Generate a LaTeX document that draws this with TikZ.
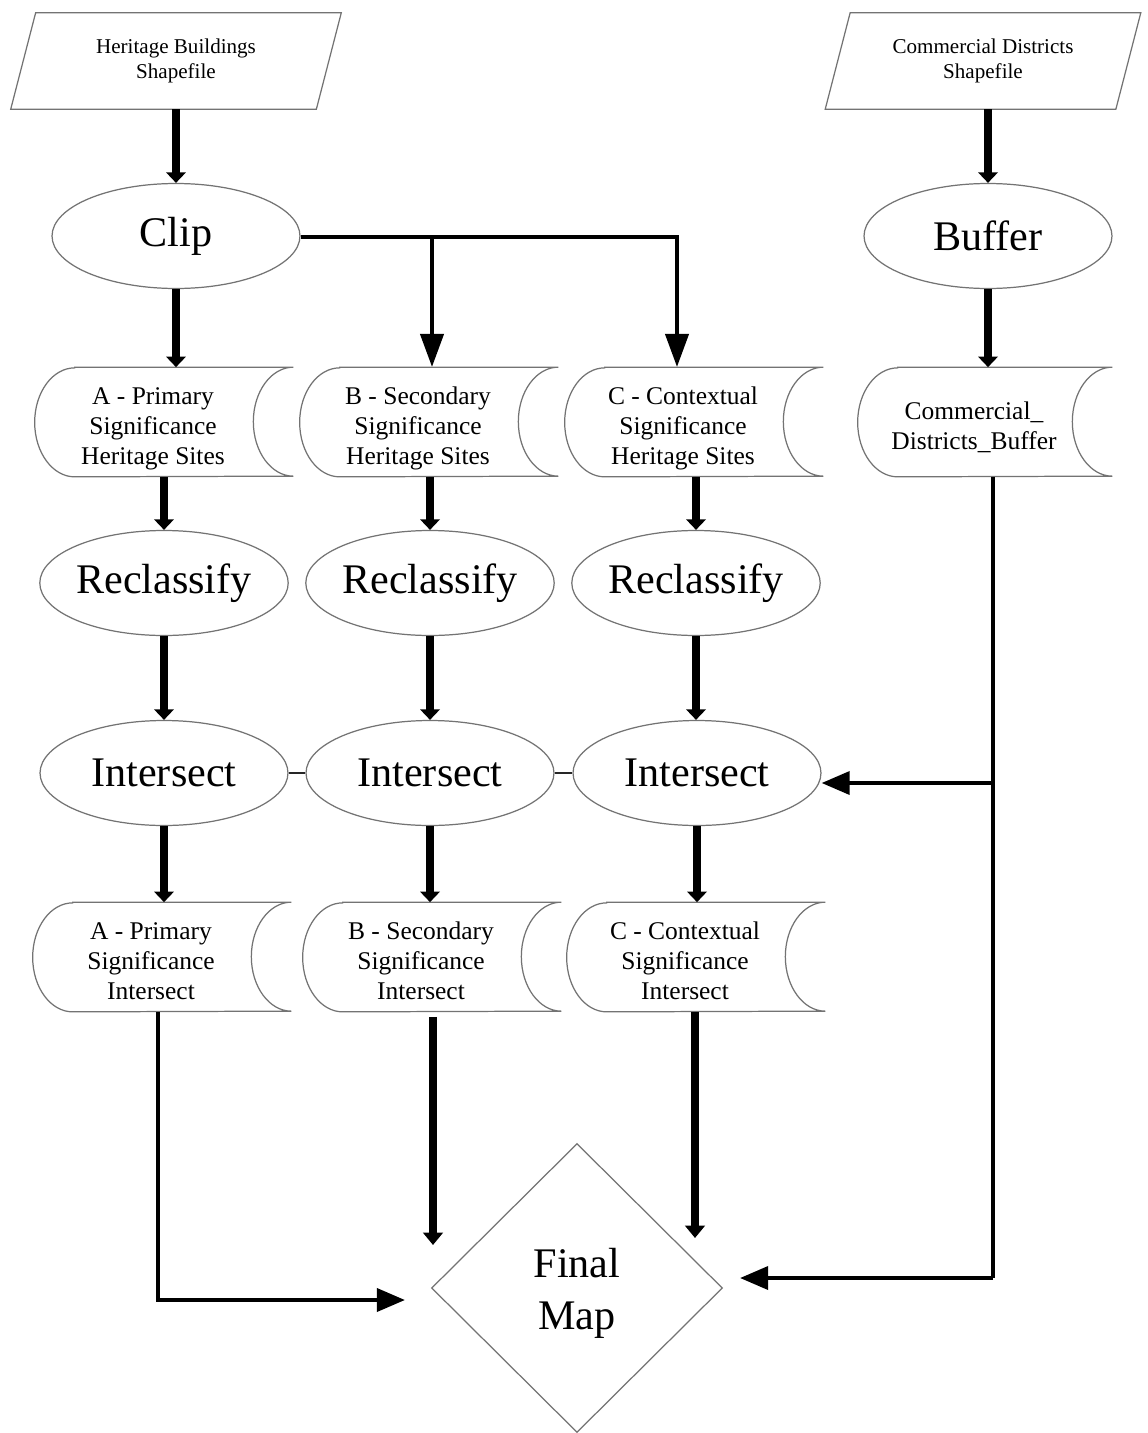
\documentclass[tikz,border=0pt]{standalone}
\usepackage{fontspec}
\setmainfont{Liberation Serif}
\usetikzlibrary{arrows.meta,shapes.geometric}

% outline of a stored-data symbol: convex left end, concave right end
\newcommand{\storeoutline}[1]{%
  \draw[outline] ([xshift=0.8cm]#1.north west) -- ([xshift=0.44cm]#1.north east)
    arc[start angle=90,end angle=270,x radius=0.8cm,y radius=1.09cm]
    -- ([xshift=0.8cm]#1.south west)
    arc[start angle=270,end angle=90,x radius=0.8cm,y radius=1.09cm] -- cycle;}
% outline of an input (parallelogram) symbol
\newcommand{\slantoutline}[1]{%
  \draw[outline] ([xshift=0.25cm]#1.north west) -- ([xshift=0.25cm]#1.north east)
    -- ([xshift=-0.25cm]#1.south east) -- ([xshift=-0.25cm]#1.south west) -- cycle;}
% struts that set the text a little below the middle of a store symbol
\newcommand{\topstrut}{\rule{0pt}{17.6pt}}
\newcommand{\botstrut}{\rule[-3.2pt]{0pt}{3.2pt}}

\tikzset{
  outline/.style={draw=black!55,line width=0.7pt},
  inbox/.style={rectangle,minimum width=6.1cm,minimum height=1.92cm,inner sep=0pt,
    align=center,font=\fontsize{12}{14.7}\selectfont},
  proc/.style={ellipse,draw=black!55,line width=0.7pt,minimum width=4.96cm,
    minimum height=2.1cm,inner sep=0pt,font=\fontsize{24}{29}\selectfont},
  storebox/.style={rectangle,minimum width=4.72cm,minimum height=2.18cm,inner sep=0pt,
    align=center,font=\fontsize{14.5}{17}\selectfont},
  finalbox/.style={diamond,draw=black!55,line width=0.7pt,minimum width=5.82cm,
    minimum height=5.78cm,inner sep=0pt,align=center,font=\fontsize{24}{29.5}\selectfont},
  stub/.style={line width=4pt,-{Triangle[length=6pt,width=11pt]}},
  heavy/.style={line width=5pt,-{Triangle[length=7pt,width=11pt]}},
  branch/.style={line width=2.8pt,line join=miter,-{Triangle[length=19pt,width=13pt]}},
  feed/.style={line width=2.4pt,line join=miter,-{Triangle[length=16pt,width=13pt]}},
  trunk/.style={line width=2.4pt},
  link/.style={line width=0.9pt,draw=black!85},
}

\begin{document}
\begin{tikzpicture}[x=0.02cm,y=-0.02cm]
\useasboundingbox[fill=white] (0,0) rectangle (1148,1433);

% inputs
\node[inbox] (hb) at (176,61) {Heritage Buildings\\Shapefile};
\node[inbox,minimum width=5.8cm] (cd) at (983,61) {Commercial Districts\\Shapefile};
\slantoutline{hb}
\slantoutline{cd}

% first tools
\node[proc] (clip) at (176,236) {Clip};
\node[proc] (buffer) at (988,236) {Buffer};

% significance layers
\node[storebox] (sA) at (153,422) {\topstrut A - Primary\\Significance\\Heritage Sites\botstrut};
\node[storebox] (sB) at (418,422) {\topstrut B - Secondary\\Significance\\Heritage Sites\botstrut};
\node[storebox] (sC) at (683,422) {\topstrut C - Contextual\\Significance\\Heritage Sites\botstrut};
\node[storebox,minimum width=4.64cm] (sD) at (974,422) {\topstrut Commercial\_\\Districts\_Buffer\botstrut};
\storeoutline{sA}
\storeoutline{sB}
\storeoutline{sC}
\storeoutline{sD}

% reclassify
\node[proc] (recA) at (164,583) {Reclassify};
\node[proc] (recB) at (430,583) {Reclassify};
\node[proc] (recC) at (696,583) {Reclassify};

% intersect
\node[proc] (intA) at (164,773) {Intersect};
\node[proc] (intB) at (430,773) {Intersect};
\node[proc] (intC) at (697,773) {Intersect};

% intersect results
\node[storebox] (oA) at (151,957) {\topstrut A - Primary\\Significance\\Intersect\botstrut};
\node[storebox] (oB) at (421,957) {\topstrut B - Secondary\\Significance\\Intersect\botstrut};
\node[storebox] (oC) at (685,957) {\topstrut C - Contextual\\Significance\\Intersect\botstrut};
\storeoutline{oA}
\storeoutline{oB}
\storeoutline{oC}

% result
\node[finalbox] (fm) at (577,1288) {\rule{0pt}{22.7pt}Final\\Map};

% junctions and free ends
\coordinate (jB) at (432,237);
\coordinate (jC) at (677,237);
\coordinate (kD) at (993,783);
\coordinate (kF) at (993,1278);
\coordinate (fmR) at (740,1278);
\coordinate (pA) at (158,1300);
\coordinate (fmL) at (405,1300);
\coordinate (fmB) at (433,1245);
\coordinate (fmC) at (695,1238);

% connectors
\draw[stub] (hb.south) -- (clip.north);
\draw[stub] (buffer.north |- cd.south) -- (buffer.north);
\draw[stub] (clip.south) -- (clip.south |- sA.north);
\draw[branch] (clip.east |- jC) -- (jC) -- (jC |- sC.north);
\draw[branch] (jB) -- (jB |- sB.north);
\draw[stub] (buffer.south) -- (buffer.south |- sD.north);

\draw[stub] (recA.north |- sA.south) -- (recA.north);
\draw[stub] (recB.north |- sB.south) -- (recB.north);
\draw[stub] (recC.north |- sC.south) -- (recC.north);

\draw[stub] (recA.south) -- (intA.north);
\draw[stub] (recB.south) -- (intB.north);
\draw[stub] (recC.south) -- (recC.south |- intC.north);

\draw[link] (intA.east) -- (intB.west);
\draw[link] (intB.east) -- (intC.west);

\draw[stub] (intA.south) -- (intA.south |- oA.north);
\draw[stub] (intB.south) -- (intB.south |- oB.north);
\draw[stub] (intC.south) -- (intC.south |- oC.north);

\draw[trunk] (kD |- sD.south) -- (kF);
\draw[feed] (kD) -- (intC.east |- kD);
\draw[feed] (kF) -- (fmR);

\draw[feed] (pA |- oA.south) -- (pA) -- (fmL);
\draw[heavy] ([yshift=-0.1cm]fmB |- oB.south) -- (fmB);
\draw[heavy] (fmC |- oC.south) -- (fmC);
\end{tikzpicture}
\end{document}
